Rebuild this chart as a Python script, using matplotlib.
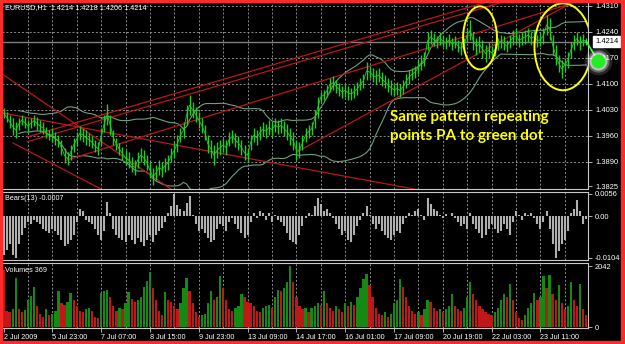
import matplotlib
matplotlib.use('Agg')
import matplotlib.pyplot as plt
import matplotlib.transforms as mtrans
from matplotlib.patches import Ellipse, Rectangle
import numpy as np
import pandas as pd

plt.rcParams['font.family'] = ['Liberation Sans', 'DejaVu Sans']

W, H = 625, 344

# ---------------- data (2-hour bars) ----------------
bar_high = [
    1.4035, 1.4024, 1.4016, 1.4008, 1.3997, 1.4008, 1.4016, 1.4011, 1.4003, 1.4008,
    1.4016, 1.4011, 1.4003, 1.3997, 1.3984, 1.3976, 1.3981, 1.3970, 1.3962, 1.3949,
    1.3927, 1.3917, 1.3935, 1.3954, 1.3970, 1.3986, 1.3981, 1.3976, 1.3968, 1.3959,
    1.3949, 1.3943, 1.3981, 1.4016, 1.4046, 1.4016, 1.3976, 1.3954, 1.3941, 1.3930,
    1.3922, 1.3917, 1.3903, 1.3895, 1.3917, 1.3927, 1.3922, 1.3908, 1.3889, 1.3873,
    1.3881, 1.3895, 1.3889, 1.3900, 1.3908, 1.3927, 1.3943, 1.3962, 1.3981, 1.3997,
    1.4043, 1.4070, 1.4051, 1.4038, 1.4024, 1.4008, 1.3989, 1.3962, 1.3949, 1.3935,
    1.3943, 1.3949, 1.3954, 1.3949, 1.3970, 1.3976, 1.3968, 1.3959, 1.3949, 1.3935,
    1.3927, 1.3962, 1.3981, 1.3976, 1.3986, 1.3997, 1.3992, 1.4003, 1.3997, 1.4008,
    1.4003, 1.4008, 1.4000, 1.3992, 1.3981, 1.3970, 1.3949, 1.3943, 1.3962, 1.3981,
    1.3989, 1.3997, 1.4030, 1.4065, 1.4078, 1.4084, 1.4097, 1.4116, 1.4122, 1.4111,
    1.4103, 1.4095, 1.4100, 1.4095, 1.4089, 1.4097, 1.4105, 1.4116, 1.4127, 1.4159,
    1.4148, 1.4143, 1.4138, 1.4143, 1.4132, 1.4124, 1.4116, 1.4111, 1.4100, 1.4105,
    1.4100, 1.4111, 1.4127, 1.4138, 1.4143, 1.4148, 1.4165, 1.4178, 1.4186, 1.4240,
    1.4245, 1.4237, 1.4229, 1.4240, 1.4232, 1.4226, 1.4234, 1.4224, 1.4229, 1.4218,
    1.4213, 1.4224, 1.4251, 1.4272, 1.4240, 1.4224, 1.4229, 1.4218, 1.4205, 1.4213,
    1.4202, 1.4208, 1.4224, 1.4232, 1.4229, 1.4218, 1.4232, 1.4245, 1.4251, 1.4234,
    1.4240, 1.4245, 1.4251, 1.4240, 1.4245, 1.4232, 1.4237, 1.4251, 1.4286, 1.4278,
    1.4232, 1.4205, 1.4178, 1.4165, 1.4170, 1.4186, 1.4213, 1.4232, 1.4240, 1.4229,
    1.4234, 1.4224,
]
bar_low = [
    1.4008, 1.3997, 1.3981, 1.3962, 1.3954, 1.3976, 1.3989, 1.3981, 1.3970, 1.3981,
    1.3986, 1.3976, 1.3970, 1.3965, 1.3954, 1.3949, 1.3943, 1.3935, 1.3930, 1.3908,
    1.3887, 1.3881, 1.3895, 1.3917, 1.3932, 1.3949, 1.3943, 1.3935, 1.3932, 1.3927,
    1.3917, 1.3908, 1.3935, 1.3970, 1.3989, 1.3962, 1.3935, 1.3922, 1.3908, 1.3895,
    1.3881, 1.3873, 1.3862, 1.3855, 1.3873, 1.3889, 1.3881, 1.3868, 1.3846, 1.3827,
    1.3841, 1.3855, 1.3849, 1.3862, 1.3868, 1.3889, 1.3900, 1.3917, 1.3943, 1.3954,
    1.3989, 1.4016, 1.4008, 1.3997, 1.3981, 1.3968, 1.3949, 1.3914, 1.3900, 1.3881,
    1.3900, 1.3908, 1.3917, 1.3908, 1.3932, 1.3941, 1.3930, 1.3922, 1.3908, 1.3895,
    1.3889, 1.3922, 1.3943, 1.3935, 1.3949, 1.3959, 1.3954, 1.3962, 1.3957, 1.3970,
    1.3965, 1.3968, 1.3959, 1.3949, 1.3935, 1.3922, 1.3895, 1.3900, 1.3922, 1.3943,
    1.3954, 1.3962, 1.3981, 1.4008, 1.4051, 1.4057, 1.4065, 1.4078, 1.4084, 1.4076,
    1.4068, 1.4062, 1.4065, 1.4057, 1.4057, 1.4062, 1.4070, 1.4084, 1.4089, 1.4111,
    1.4116, 1.4105, 1.4100, 1.4105, 1.4095, 1.4089, 1.4078, 1.4070, 1.4068, 1.4070,
    1.4065, 1.4073, 1.4089, 1.4100, 1.4111, 1.4116, 1.4127, 1.4138, 1.4148, 1.4191,
    1.4208, 1.4202, 1.4197, 1.4205, 1.4200, 1.4194, 1.4202, 1.4191, 1.4197, 1.4186,
    1.4178, 1.4186, 1.4213, 1.4218, 1.4191, 1.4178, 1.4186, 1.4170, 1.4159, 1.4170,
    1.4165, 1.4175, 1.4191, 1.4197, 1.4191, 1.4186, 1.4197, 1.4205, 1.4208, 1.4200,
    1.4205, 1.4208, 1.4213, 1.4205, 1.4210, 1.4200, 1.4202, 1.4208, 1.4232, 1.4218,
    1.4178, 1.4151, 1.4132, 1.4116, 1.4132, 1.4143, 1.4170, 1.4191, 1.4205, 1.4191,
    1.4202, 1.4206,
]
bears_power = [
    -0.0097, -0.0083, -0.0070, -0.0097, -0.0104, -0.0070, -0.0047, -0.0028, -0.0014, -0.0019,
    -0.0008, -0.0014, -0.0019, -0.0031, -0.0036, -0.0042, -0.0031, -0.0036, -0.0047, -0.0058,
    -0.0075, -0.0070, -0.0058, -0.0047, -0.0014, 0.0019, 0.0014, -0.0008, -0.0014, -0.0019,
    -0.0031, -0.0047, -0.0058, -0.0036, 0.0036, 0.0008, -0.0031, -0.0047, -0.0053, -0.0058,
    -0.0064, -0.0047, -0.0058, -0.0070, -0.0053, -0.0064, -0.0075, -0.0058, -0.0047, -0.0064,
    -0.0047, -0.0036, -0.0028, -0.0014, 0.0008, 0.0025, 0.0056, 0.0028, 0.0019, 0.0014,
    0.0033, 0.0050, 0.0003, -0.0019, -0.0036, -0.0031, -0.0042, -0.0053, -0.0064, -0.0058,
    -0.0031, -0.0019, -0.0025, -0.0036, -0.0014, -0.0003, -0.0019, -0.0031, -0.0042, -0.0053,
    -0.0047, -0.0014, 0.0008, -0.0003, 0.0014, 0.0008, -0.0008, 0.0008, -0.0014, 0.0003,
    -0.0008, -0.0014, -0.0025, -0.0042, -0.0058, -0.0064, -0.0070, -0.0047, -0.0025, -0.0003,
    0.0008, 0.0003, 0.0025, 0.0047, 0.0031, 0.0014, 0.0019, 0.0008, -0.0003, -0.0019,
    -0.0031, -0.0047, -0.0036, -0.0058, -0.0064, -0.0047, -0.0025, -0.0008, 0.0008, 0.0025,
    0.0003, -0.0019, -0.0031, -0.0019, -0.0036, -0.0047, -0.0053, -0.0058, -0.0047, -0.0036,
    -0.0042, -0.0019, -0.0003, 0.0008, 0.0003, 0.0014, 0.0019, 0.0003, -0.0008, 0.0047,
    0.0031, 0.0019, 0.0014, 0.0003, -0.0003, 0.0006, 0.0000, 0.0008, -0.0003, -0.0014,
    -0.0025, -0.0019, -0.0031, 0.0008, -0.0019, -0.0031, -0.0042, -0.0053, -0.0047, -0.0031,
    -0.0019, -0.0031, -0.0042, -0.0036, -0.0019, -0.0031, -0.0047, -0.0014, 0.0014, 0.0003,
    -0.0008, 0.0008, 0.0003, 0.0008, -0.0003, -0.0019, -0.0031, -0.0014, 0.0014, -0.0031,
    -0.0070, -0.0103, -0.0086, -0.0070, -0.0058, -0.0036, 0.0008, 0.0019, 0.0042, 0.0014,
    -0.0019, -0.0007,
]
volumes = [
    1900, 550, 500, 600, 1650, 600, 520, 560, 900, 1050,
    1350, 700, 450, 350, 600, 420, 450, 550, 1200, 800,
    750, 850, 1130, 900, 700, 550, 520, 600, 650, 550,
    350, 300, 1130, 1200, 1250, 1000, 700, 550, 650, 600,
    800, 1190, 950, 850, 900, 1000, 1350, 1550, 1850, 1300,
    900, 550, 400, 1190, 900, 850, 700, 600, 800, 1300,
    1660, 1200, 800, 500, 350, 400, 450, 800, 1200, 900,
    1000, 1700, 1300, 900, 600, 550, 650, 700, 1100, 1000,
    850, 800, 700, 550, 520, 650, 700, 750, 650, 1000,
    1250, 1200, 1300, 1500, 2040, 1500, 1000, 700, 600, 650,
    500, 650, 700, 800, 750, 1200, 800, 650, 550, 700,
    600, 500, 800, 700, 850, 750, 1000, 1300, 1600, 1770,
    1400, 1000, 650, 450, 400, 500, 350, 450, 800, 900,
    1600, 1350, 1000, 700, 550, 450, 500, 400, 600, 900,
    850, 650, 550, 600, 500, 600, 700, 1100, 700, 600,
    550, 650, 1000, 1500, 1100, 900, 700, 600, 500, 450,
    400, 500, 650, 900, 1100, 1000, 1450, 900, 500, 300,
    250, 400, 650, 800, 1150, 900, 1000, 1700, 1300, 1750,
    1100, 900, 1400, 800, 600, 700, 1500, 900, 700, 1450,
    600, 400,
]
date_labels = ['2 Jul 2009', '5 Jul 23:00', '7 Jul 07:00', '8 Jul 15:00', '9 Jul 23:00',
               '13 Jul 09:00', '14 Jul 17:00', '16 Jul 01:00', '17 Jul 09:00',
               '20 Jul 19:00', '22 Jul 03:00', '23 Jul 11:00', '24 Jul 19:00']
bars_per_label = 16
bars_per_grid = 8
price_ticks = [1.4310, 1.4240, 1.4170, 1.4100, 1.4030, 1.3960, 1.3890, 1.3825]
bears_ticks = [0.0056, 0.0, -0.0104]
bears_tick_labels = ['0.0056', '0.00', '-0.0104']
volume_ticks = [0, 2042]
last_price = 1.4214
header_text = 'EURUSD,H1  1.4214 1.4218 1.4206 1.4214'
bears_text = 'Bears(13) -0.0007'
volumes_text = 'Volumes 369'
note_lines = ['Same pattern repeating', 'points PA to green dot']
bb_period = 25
bb_dev = 2.0

# trend lines: (bar0, price0, bar1, price1)
trend_lines = [
    (-0.5, 1.4127, 55.4, 1.3814),
    (-0.5, 1.4022, 136.5, 1.3814),
    (3.1, 1.3941, 32.6, 1.3814),
    (7.7, 1.3957, 158.5, 1.4321),
    (7.7, 1.3944, 166.0, 1.4326),
    (20.8, 1.3895, 184.7, 1.4313),
    (96.2, 1.3917, 188.0, 1.4326),
]
# ellipses: (center bar, center price, width in bars, height in price)
ellipses = [(156.2, 1.4224, 11.1, 0.0170), (183.4, 1.4200, 18.7, 0.0234)]
green_dot = (194.9, 1.4162)

# ---------------- figure ----------------
fig = plt.figure(figsize=(W / 100, H / 100), dpi=100, facecolor='black')


def px_axes(left, top, right, bottom):
    return fig.add_axes([left / W, 1 - bottom / H, (right - left) / W, (bottom - top) / H])


ax = px_axes(2, 3, 588, 189)
axb = px_axes(2, 192, 588, 260)
axv = px_axes(2, 263, 588, 328)

n = len(bar_high)
idx = np.arange(n)
hi = np.array(bar_high)
lo = np.array(bar_low)
mid = (hi + lo) / 2
XL = (-0.5, n - 0.4)
spine_c = '#c8c8c8'
grid_c = '#8c8c8c'
grid_ls = (0, (2, 2))

for a in (ax, axb, axv):
    a.set_facecolor('black')
    a.set_xlim(*XL)
    for s in a.spines.values():
        s.set_color(spine_c)
        s.set_linewidth(0.8)
    a.spines['left'].set_visible(False)
    a.yaxis.tick_right()
    a.tick_params(axis='y', colors=spine_c, labelcolor='white', labelsize=5.4,
                  length=3, width=0.6, pad=2)
    a.tick_params(axis='x', colors=spine_c, labelcolor='white', labelsize=5.2,
                  length=3, width=0.6, pad=1)
    for g in range(bars_per_grid, n + 1, bars_per_grid):
        a.axvline(g, color=grid_c, lw=0.7, ls=grid_ls, zorder=0)
ax.spines['top'].set_visible(False)

# main panel
ax.set_ylim(1.3817, 1.4318)
ax.set_yticks(price_ticks)
ax.set_yticklabels([f'{p:.4f}' for p in price_ticks])
for p in price_ticks[:-1]:
    ax.axhline(p, color=grid_c, lw=0.7, ls=grid_ls, zorder=0)
ax.axhline(last_price, color='#808080', lw=1.0, zorder=1)
ax.set_xticks([])

closes = pd.Series(mid)
ma = closes.rolling(bb_period, min_periods=6).mean()
sd = closes.rolling(bb_period, min_periods=6).std(ddof=0)
for band in (ma + bb_dev * sd, ma - bb_dev * sd):
    ax.plot(idx, band, color='#6f9f7f', lw=0.8, zorder=2)

for (x0, p0, x1, p1) in trend_lines:
    ax.plot([x0, x1], [p0, p1], color='#b81818', lw=0.9, zorder=3)

ax.vlines(idx, lo, hi, color='#22cc22', lw=1.0, zorder=4)
ax.plot(idx, mid, color='#22cc22', lw=0.6, zorder=4)

for (cx, cy, w, h) in ellipses:
    ax.add_patch(Ellipse((cx, cy), w, h, fill=False, edgecolor='#ffff00', lw=1.4, zorder=6))

ax.plot([n - 1, green_dot[0]], [mid[-1], green_dot[1]], color='#33ff33', lw=1.2,
        clip_on=False, zorder=7)
for ms, al in ((20, 0.15), (16, 0.3), (13, 0.6)):
    ax.plot(*green_dot, 'o', ms=ms, color='white', alpha=al, mec='none', clip_on=False, zorder=8)
ax.plot(*green_dot, 'o', ms=10, color='#22ee22', mec='none', clip_on=False, zorder=9)

btr = mtrans.blended_transform_factory(ax.transAxes, ax.transData)
ax.text(1.012, last_price, f'{last_price:.4f}', transform=btr, color='black', fontsize=5.4,
        va='center', ha='left', zorder=10,
        bbox=dict(boxstyle='square,pad=0.25', fc='white', ec='white'))

# bears panel
axb.set_ylim(-0.0109, 0.0061)
axb.set_yticks(bears_ticks)
axb.set_yticklabels(bears_tick_labels)
axb.set_xticks([])
axb.vlines(idx, 0, bears_power, color='#b0b0b0', lw=1.5, zorder=3)

# volume panel
axv.set_ylim(-30, 2150)
axv.set_yticks(volume_ticks)
axv.set_yticklabels([str(v) for v in volume_ticks])
vol = np.array(volumes)
vcol = ['#c01818'] + ['#138a13' if vol[i] > vol[i - 1] else '#c01818' for i in range(1, n)]
axv.bar(idx, vol, width=0.75, color=vcol, zorder=3)
label_pos = [k * bars_per_label for k in range(len(date_labels))]
axv.set_xticks(label_pos)
axv.set_xticklabels(date_labels, ha='left')
axv.set_xlim(*XL)

# texts
fig.text(5 / W, 1 - 8 / H, header_text, color='white', fontsize=5.2, va='center', ha='left')
fig.text(5 / W, 1 - 199 / H, bears_text, color='white', fontsize=5.2, va='center', ha='left')
fig.text(5 / W, 1 - 270 / H, volumes_text, color='white', fontsize=5.2, va='center', ha='left')
fig.text(390 / W, 1 - 121 / H, note_lines[0], color='#ffff00', fontsize=11,
         fontweight='bold', family=['Lato', 'DejaVu Sans'], va='baseline', ha='left')
fig.text(390 / W, 1 - 140 / H, note_lines[1], color='#ffff00', fontsize=11,
         fontweight='bold', family=['Lato', 'DejaVu Sans'], va='baseline', ha='left')

# red window border
for (l, t, r, b) in ((0, 0, W, 2), (0, H - 3, W, H), (0, 0, 2, H), (W - 4, 0, W, H)):
    fig.patches.append(Rectangle((l / W, 1 - b / H), (r - l) / W, (b - t) / H,
                                 transform=fig.transFigure, color='#ff2a2a', zorder=20))

fig.savefig('out.png', dpi=100, facecolor='black')
